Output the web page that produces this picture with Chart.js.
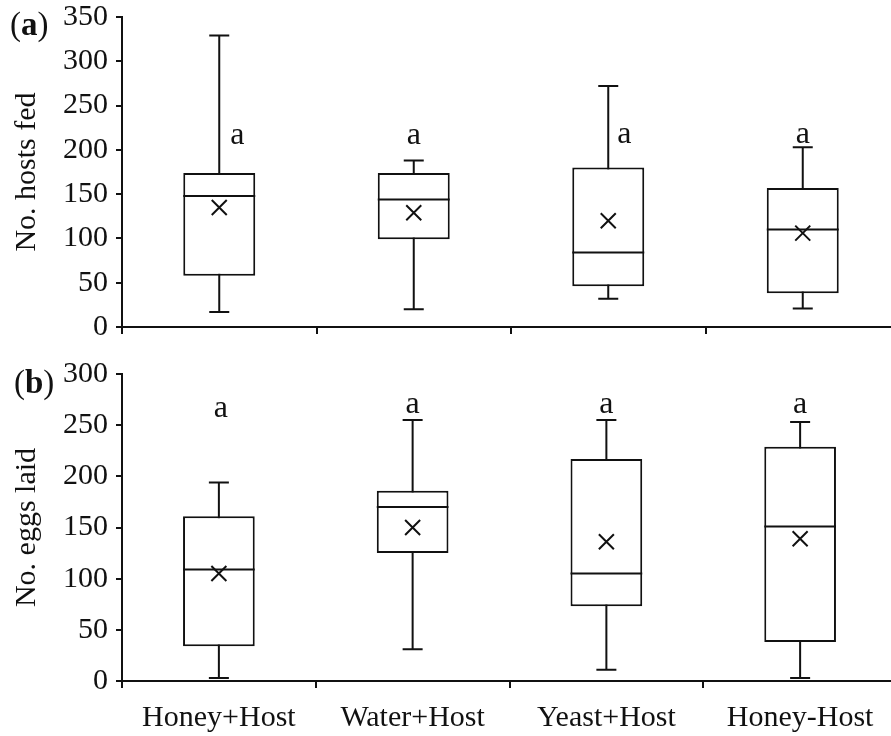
<!DOCTYPE html>
<html>
<head>
<meta charset="utf-8">
<script src="https://cdn.jsdelivr.net/npm/chart.js@4.4.1/dist/chart.umd.min.js"></script>
<style>
  html, body { margin: 0; padding: 0; background: #fff; overflow: hidden; width: 891px; height: 736px; }
  #wrap { position: relative; width: 891px; height: 736px; overflow: hidden; }
  canvas { position: absolute; left: 0; }
  #hosts { top: 0; }
  #eggs { top: 360px; }
</style>
</head>
<body>
<div id="wrap">
  <canvas id="hosts" width="900" height="345"></canvas>
  <canvas id="eggs" width="897" height="376"></canvas>
</div>
<script>
// Treatments on the shared x axis
const treatments = ['Honey+Host', 'Water+Host', 'Yeast+Host', 'Honey-Host'];

// (a) Number of hosts fed: five-number summary and mean per treatment
const hostsMin    = [17, 20, 32, 21];
const hostsQ1     = [58, 99, 46, 38];
const hostsMedian = [148, 144, 84, 110];
const hostsQ3     = [174, 174, 180, 157];
const hostsMax    = [329, 188, 272, 203];
const hostsMean   = [135, 129, 120, 106];
const hostsLetters  = ['a', 'a', 'a', 'a'];
const hostsLetterAt = [207, 207, 208, 208];
const hostsTicks  = [0, 50, 100, 150, 200, 250, 300, 350];

// (b) Number of eggs laid
const eggsMin    = [3, 31, 11, 3];
const eggsQ1     = [34, 125, 73, 38];
const eggsMedian = [109, 170, 105, 151];
const eggsQ3     = [161, 186, 217, 229];
const eggsMax    = [194, 255, 255, 253];
const eggsMean   = [105, 150, 136, 139];
const eggsLetters  = ['a', 'a', 'a', 'a'];
const eggsLetterAt = [258, 262, 262, 262];
const eggsTicks  = [0, 50, 100, 150, 200, 250, 300];

const INK = '#111';
const SERIF = '"Liberation Serif", "Times New Roman", serif';

// Whiskers go under the boxes; medians, means and group letters go on top.
const boxPlotExtras = {
  id: 'boxPlotExtras',
  beforeDatasetsDraw(chart, args, opts) {
    const { ctx } = chart;
    const y = chart.scales.y;
    const ds = chart.data.datasets[0];
    const meta = chart.getDatasetMeta(0);
    ctx.save();
    ctx.strokeStyle = INK;
    ctx.lineWidth = 2;
    meta.data.forEach((bar, i) => {
      const cx = bar.x;
      const lo = y.getPixelForValue(ds.whiskerLow[i]);
      const hi = y.getPixelForValue(ds.whiskerHigh[i]);
      ctx.beginPath();
      ctx.moveTo(cx, lo); ctx.lineTo(cx, hi);
      ctx.moveTo(cx - opts.capHalf, lo); ctx.lineTo(cx + opts.capHalf, lo);
      ctx.moveTo(cx - opts.capHalf, hi); ctx.lineTo(cx + opts.capHalf, hi);
      ctx.stroke();
    });
    ctx.restore();
  },
  afterDatasetsDraw(chart, args, opts) {
    const { ctx } = chart;
    const y = chart.scales.y;
    const ds = chart.data.datasets[0];
    const meta = chart.getDatasetMeta(0);
    ctx.save();
    ctx.strokeStyle = INK;
    ctx.fillStyle = INK;
    ctx.lineWidth = 2;
    meta.data.forEach((bar, i) => {
      const cx = bar.x;
      const half = bar.width / 2;
      // median
      const m = y.getPixelForValue(ds.median[i]);
      ctx.beginPath();
      ctx.moveTo(cx - half, m); ctx.lineTo(cx + half, m);
      ctx.stroke();
      // mean marker
      const my = y.getPixelForValue(ds.mean[i]);
      const s = opts.crossHalf;
      ctx.beginPath();
      ctx.moveTo(cx - s, my - s); ctx.lineTo(cx + s, my + s);
      ctx.moveTo(cx + s, my - s); ctx.lineTo(cx - s, my + s);
      ctx.stroke();
      // group letter
      ctx.font = '32px ' + SERIF;
      ctx.textAlign = 'center';
      ctx.textBaseline = 'alphabetic';
      ctx.fillText(ds.letters[i], cx + opts.letterShift[i], y.getPixelForValue(ds.letterAt[i]));
    });
    ctx.restore();
  },
  afterDraw(chart, args, opts) {
    const { ctx } = chart;
    ctx.save();
    ctx.fillStyle = INK;
    ctx.textBaseline = 'middle';
    ctx.textAlign = 'left';
    let x = opts.tagX;
    ctx.font = '33px ' + SERIF;
    ctx.fillText('(', x, opts.tagY);
    x += ctx.measureText('(').width;
    ctx.font = 'bold 33px ' + SERIF;
    ctx.fillText(opts.tag, x, opts.tagY);
    x += ctx.measureText(opts.tag).width;
    ctx.font = '33px ' + SERIF;
    ctx.fillText(')', x, opts.tagY);
    ctx.restore();
  }
};

function makePanel(canvasId, cfg) {
  return new Chart(document.getElementById(canvasId), {
    type: 'bar',
    data: {
      labels: treatments,
      datasets: [{
        data: cfg.q1.map((v, i) => [v, cfg.q3[i]]),
        whiskerLow: cfg.min,
        whiskerHigh: cfg.max,
        median: cfg.median,
        mean: cfg.mean,
        letters: cfg.letters,
        letterAt: cfg.letterAt,
        backgroundColor: '#fff',
        borderColor: INK,
        borderWidth: 2,
        borderSkipped: false,
        barPercentage: 0.37,
        categoryPercentage: 1.0
      }]
    },
    options: {
      responsive: false,
      devicePixelRatio: 1,
      animation: false,
      events: [],
      layout: { padding: { left: 0, right: 0, top: cfg.padTop, bottom: 0 } },
      plugins: {
        legend: { display: false },
        tooltip: { enabled: false },
        boxPlotExtras: {
          capHalf: 10,
          crossHalf: 7.5,
          letterShift: cfg.letterShift,
          tag: cfg.tag,
          tagX: cfg.tagX,
          tagY: cfg.tagY
        }
      },
      scales: {
        x: {
          type: 'category',
          offset: true,
          grid: { display: true, offset: true, drawOnChartArea: false, drawTicks: true, tickLength: 7, color: INK, lineWidth: 2 },
          border: { display: true, color: INK, width: 2 },
          ticks: {
            display: true,
            autoSkip: false,
            maxRotation: 0,
            padding: cfg.xLabelPad,
            color: INK,
            font: { family: SERIF, size: 30 },
            callback: cfg.showLabels ? (v, i) => treatments[i] : () => ''
          },
          afterFit: s => { s.height = cfg.xHeight; s.paddingLeft = 0; s.paddingRight = 0; }
        },
        y: {
          min: 0,
          max: cfg.ticks[cfg.ticks.length - 1],
          afterBuildTicks: s => { s.ticks = cfg.ticks.map(v => ({ value: v })); },
          grid: { display: true, drawOnChartArea: false, drawTicks: true, tickLength: 6, color: INK, lineWidth: 2 },
          border: { display: true, color: INK, width: 2 },
          ticks: { autoSkip: false, padding: 8, color: INK, font: { family: SERIF, size: 30 } },
          title: {
            display: true,
            text: cfg.yTitle,
            color: INK,
            font: { family: SERIF, size: 30, lineHeight: 1.2 },
            padding: { top: 9, bottom: 0 }
          },
          afterFit: s => { s.width = 122; s.paddingTop = 0; s.paddingBottom = 0; }
        }
      }
    },
    plugins: [boxPlotExtras]
  });
}

makePanel('hosts', {
  q1: hostsQ1, q3: hostsQ3, min: hostsMin, max: hostsMax,
  median: hostsMedian, mean: hostsMean,
  letters: hostsLetters, letterAt: hostsLetterAt,
  letterShift: [18, 0, 16, 0],
  ticks: hostsTicks,
  yTitle: 'No. hosts fed',
  tag: 'a', tagX: 10, tagY: 26,
  padTop: 17, xHeight: 18, showLabels: false, xLabelPad: 0
});

makePanel('eggs', {
  q1: eggsQ1, q3: eggsQ3, min: eggsMin, max: eggsMax,
  median: eggsMedian, mean: eggsMean,
  letters: eggsLetters, letterAt: eggsLetterAt,
  letterShift: [2, 0, 0, 0],
  ticks: eggsTicks,
  yTitle: 'No. eggs laid',
  tag: 'b', tagX: 14, tagY: 24,
  padTop: 14, xHeight: 55, showLabels: true, xLabelPad: 12
});
</script>
</body>
</html>
